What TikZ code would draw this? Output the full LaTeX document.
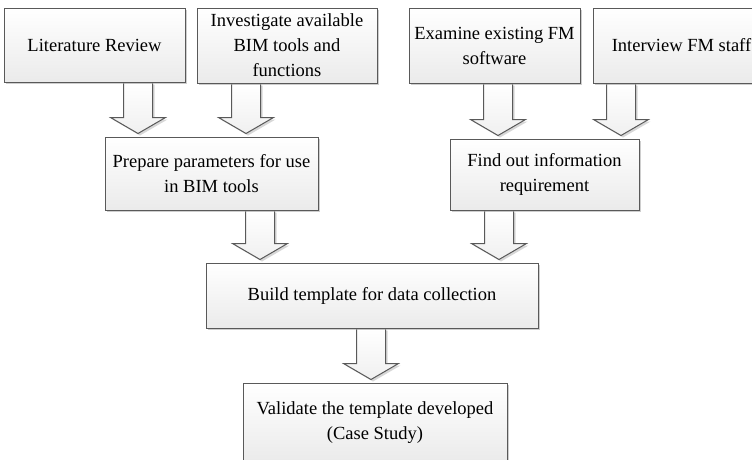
\documentclass[tikz,border=0pt]{standalone}
\usepackage{fontspec}
\setmainfont{Liberation Serif}
\usetikzlibrary{calc,shadows}
\pgfdeclarelayer{bg}
\pgfsetlayers{bg,main}

\tikzset{
  stepbox/.style={draw=black!65, line width=1pt, top color=white, bottom color=black!8,
    drop shadow={shadow xshift=2pt, shadow yshift=-2pt, fill=black!35, opacity=0.55},
    align=center, inner sep=0pt, font=\fontsize{18.5}{25}\selectfont},
  flowarrow/.style={draw=black!65, line width=1pt, top color=white, bottom color=black!6,
    drop shadow={shadow xshift=2pt, shadow yshift=-2pt, fill=black!35, opacity=0.45}}
}

% hollow block arrow from the bottom of node #1 to the top of node #2, centred on x = #3
\newcommand\blockarrow[3]{%
  \begin{pgfonlayer}{bg}
  \path let \p1=(#1.south), \p2=(#2.north) in
    [flowarrow] (#3pt-14.5pt,\y1) -- (#3pt+14.5pt,\y1) -- (#3pt+14.5pt,\y2+19pt)
      -- (#3pt+27.5pt,\y2+19pt) -- (#3pt,\y2+3pt) -- (#3pt-27.5pt,\y2+19pt)
      -- (#3pt-14.5pt,\y2+19pt) -- cycle;
  \end{pgfonlayer}}

\begin{document}
\begin{tikzpicture}[x=1pt,y=-1pt]
\useasboundingbox (0,0) rectangle (752,459);
\clip (0,0) rectangle (752,459);

\node[stepbox, minimum width=181pt, minimum height=74pt] (lit) at (94.5,45) {Literature Review};
\node[stepbox, minimum width=180pt, minimum height=75pt] (inv) at (287,45.5) {Investigate available\\BIM tools and\\functions};
\node[stepbox, minimum width=171pt, minimum height=75pt] (exam) at (494.5,45.5) {Examine existing FM\\software};
\node[stepbox, minimum width=177pt, minimum height=75pt] (intv) at (681.5,45.5) {Interview FM staff};

\node[stepbox, minimum width=213pt, minimum height=73pt] (prep) at (211.5,173.5) {Prepare parameters for use\\in BIM tools};
\node[stepbox, minimum width=189pt, minimum height=71pt] (find) at (544.5,174.5) {Find out information\\requirement};

\node[stepbox, minimum width=332pt, minimum height=65pt] (build) at (372,295.5) {Build template for data collection};

\node[stepbox, minimum width=264pt, minimum height=79pt] (valid) at (375,422.5) {Validate the template developed\\(Case Study)};

\blockarrow{lit}{prep}{138}
\blockarrow{inv}{prep}{246}
\blockarrow{exam}{find}{498}
\blockarrow{intv}{find}{621}
\blockarrow{prep}{build}{260}
\blockarrow{find}{build}{499}
\blockarrow{build}{valid}{371}
\end{tikzpicture}
\end{document}
